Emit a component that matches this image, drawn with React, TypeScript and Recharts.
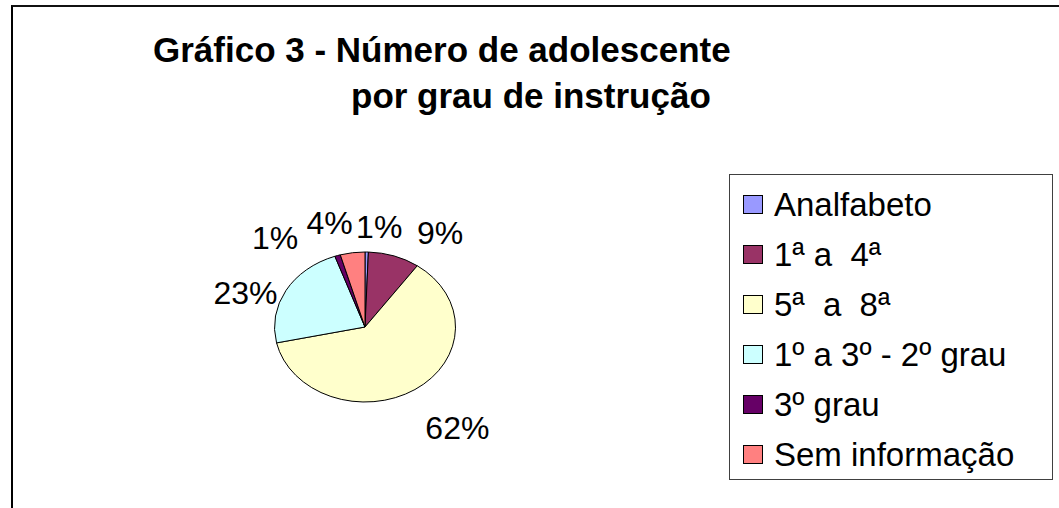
import React from "react";
import { PieChart, Pie, Cell, Legend } from "recharts";

// dados do gráfico (percentuais)
const CATEGORIES = [
  "Analfabeto",
  "1ª a  4ª",
  "5ª  a  8ª",
  "1º a 3º - 2º grau",
  "3º grau",
  "Sem informação",
];
const SHARES = [0.6, 9.2, 61.8, 23.0, 1.0, 4.4];
const COLORS = ["#9999FF", "#993366", "#FFFFCC", "#CCFFFF", "#660066", "#FF8080"];

const TITLE_LINES = ["Gráfico 3 - Número de adolescente", "por grau de instrução"];

// ajuste fino dos rótulos (o Excel desloca para evitar sobreposição)
const LABEL_NUDGE: [number, number][] = [
  [12, -4],
  [37, -3],
  [27, 20],
  [-16, 13],
  [-54, 3],
  [-19, -8],
];

const FONT = '"Liberation Sans", Arial, sans-serif';
const SQUASH = 75 / 90.5; // pizza achatada (elipse)
const RAD = Math.PI / 180;

const data = CATEGORIES.map((name, i) => ({ name, value: SHARES[i] }));

function EllipseSector(props: any) {
  const { cx, cy, outerRadius, startAngle, endAngle, fill } = props;
  const rx = outerRadius;
  const ry = outerRadius * SQUASH;
  const pt = (a: number) => [cx + rx * Math.cos(a * RAD), cy - ry * Math.sin(a * RAD)];
  const [x1, y1] = pt(startAngle);
  const [x2, y2] = pt(endAngle);
  const span = Math.abs(endAngle - startAngle);
  const large = span > 180 ? 1 : 0;
  const sweep = startAngle > endAngle ? 1 : 0;
  const d = `M${cx},${cy} L${x1},${y1} A${rx},${ry} 0 ${large} ${sweep} ${x2},${y2} Z`;
  return <path d={d} fill={fill} stroke="#000" strokeWidth={1} strokeLinejoin="round" />;
}

function renderLabel(props: any) {
  const { cx, cy, midAngle, outerRadius, percent, index } = props;
  const rx = outerRadius;
  const ry = outerRadius * SQUASH;
  const [nx, ny] = LABEL_NUDGE[index] ?? [0, 0];
  const x = cx + (rx + 28) * Math.cos(midAngle * RAD) + nx;
  const y = cy - (ry + 22) * Math.sin(midAngle * RAD) + ny;
  return (
    <text
      x={x}
      y={y}
      dy="0.36em"
      textAnchor="middle"
      fontFamily={FONT}
      fontSize={32}
      fill="#000"
    >
      {`${Math.round(percent * 100)}%`}
    </text>
  );
}

function LegendBox() {
  return (
    <div
      style={{
        border: "1px solid #404040",
        background: "#fff",
        paddingTop: 4,
        boxSizing: "border-box",
        width: 324,
        height: 306,
        fontFamily: FONT,
        fontSize: 33,
        color: "#000",
      }}
    >
      {CATEGORIES.map((name, i) => (
        <div
          key={name}
          style={{ height: 50, display: "flex", alignItems: "center", paddingLeft: 13 }}
        >
          <span
            style={{
              width: 20,
              height: 19,
              boxSizing: "border-box",
              border: "1px solid #000",
              background: COLORS[i],
              display: "inline-block",
              marginRight: 11,
            }}
          />
          <span style={{ whiteSpace: "pre", lineHeight: "33px" }}>{name}</span>
        </div>
      ))}
    </div>
  );
}

export default function App() {
  return (
    <div
      style={{
        position: "absolute",
        left: 0,
        top: 0,
        width: 1059,
        height: 508,
        overflow: "hidden",
        background: "#fff",
      }}
    >
      {/* moldura do gráfico (cortada à direita e embaixo) */}
      <div
        style={{
          position: "absolute",
          left: 11,
          top: 5,
          width: 1200,
          height: 700,
          borderTop: "2px solid #111",
          borderLeft: "2px solid #000",
        }}
      />
      <svg
        width={1059}
        height={130}
        style={{ position: "absolute", left: 0, top: 0 }}
      >
        <text x={153} y={62} fontFamily={FONT} fontWeight="bold" fontSize={35} fill="#000">
          {TITLE_LINES[0]}
        </text>
        <text x={351} y={108} fontFamily={FONT} fontWeight="bold" fontSize={35} fill="#000">
          {TITLE_LINES[1]}
        </text>
      </svg>
      <div style={{ position: "absolute", left: 0, top: 0 }}>
        <PieChart width={1059} height={508} margin={{ top: 0, right: 0, bottom: 0, left: 0 }}>
          <Pie
            data={data}
            dataKey="value"
            nameKey="name"
            cx={365}
            cy={327}
            outerRadius={90.5}
            startAngle={90}
            endAngle={-270}
            shape={EllipseSector}
            label={renderLabel}
            labelLine={false}
            isAnimationActive={false}
          >
            {data.map((d, i) => (
              <Cell key={d.name} fill={COLORS[i]} />
            ))}
          </Pie>
          <Legend
            layout="vertical"
            content={<LegendBox />}
            wrapperStyle={{ position: "absolute", left: 729, top: 174, width: 324, height: 306 }}
          />
        </PieChart>
      </div>
    </div>
  );
}
